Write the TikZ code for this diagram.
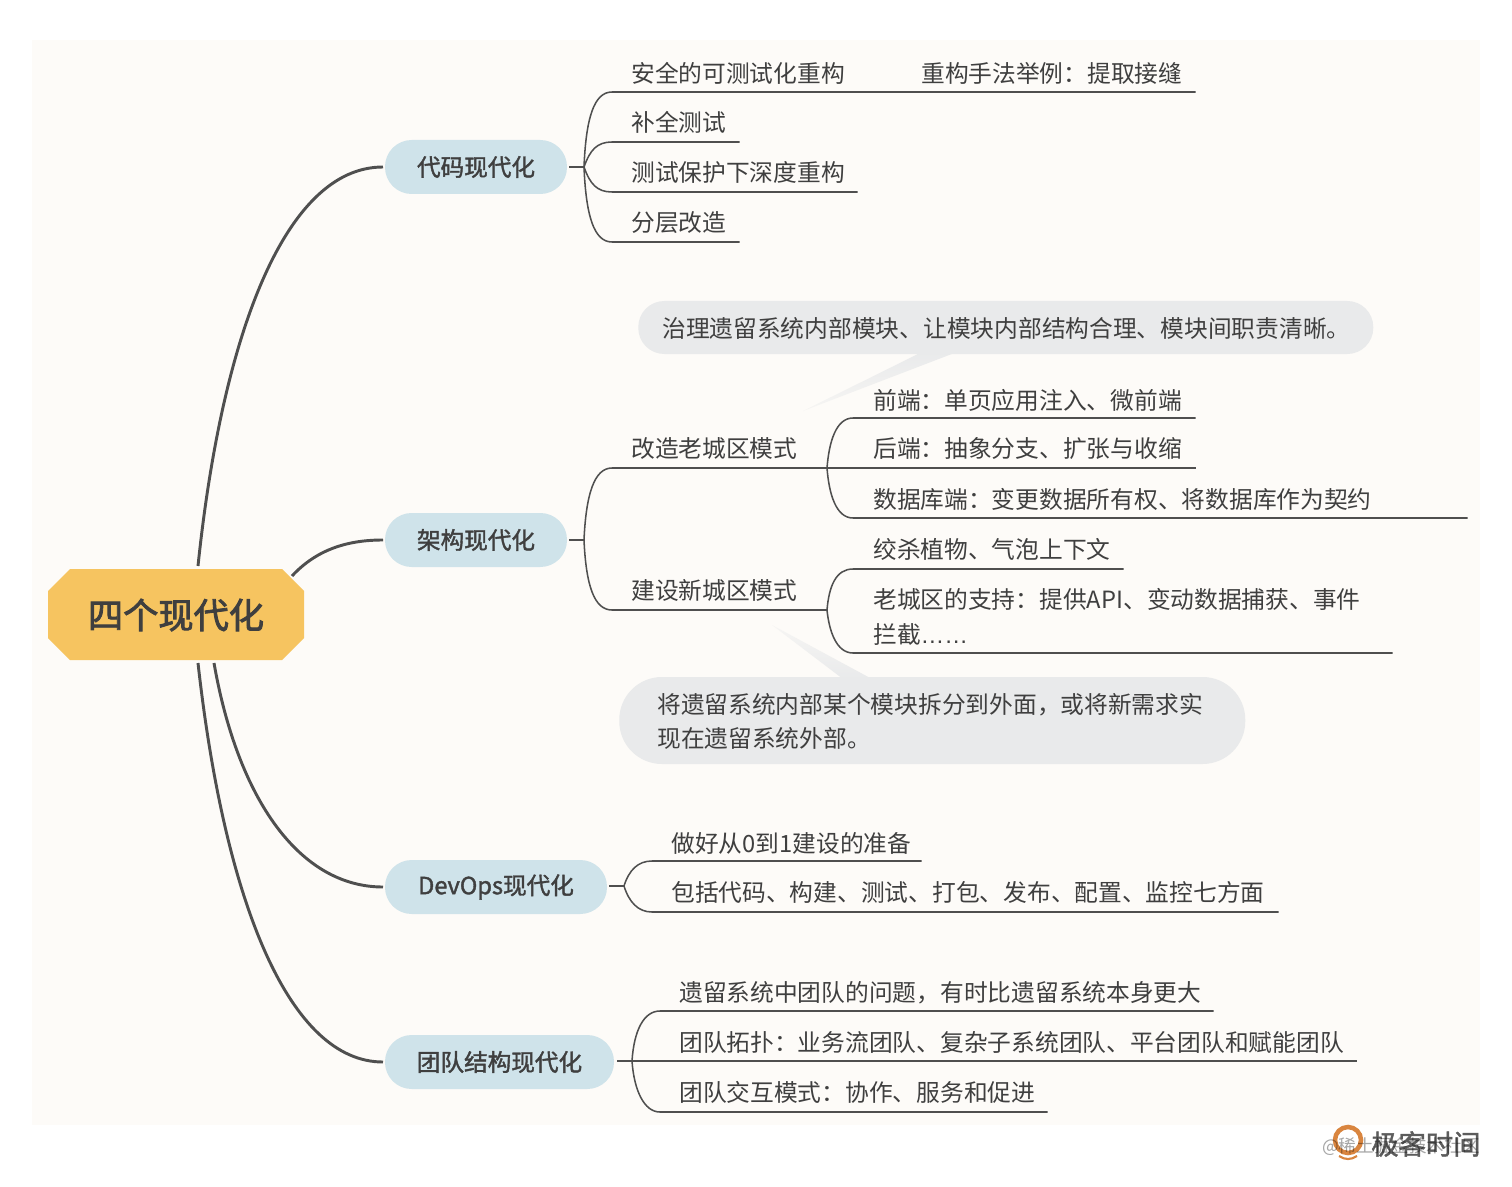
\documentclass[tikz,border=0pt]{standalone}
\usepackage{fontspec}
\setmainfont{Noto Sans CJK SC}
\newfontfamily\latinf{Liberation Sans}
\newfontfamily\medf[FakeBold=1.6]{Noto Sans CJK SC}
\newfontfamily\rootf[FakeBold=2.4]{Noto Sans CJK SC}
\usetikzlibrary{calc}
\definecolor{pagebg}{HTML}{FDFBF8}
\definecolor{rootfill}{HTML}{F6C460}
\definecolor{branchfill}{HTML}{CFE3EA}
\definecolor{notefill}{HTML}{E9EAEB}
\definecolor{ink}{HTML}{3F3F3F}
\definecolor{linecol}{HTML}{4F4F4F}
\definecolor{logocol}{HTML}{D9853F}
\tikzset{
 rootbox/.style={inner sep=0pt,text=ink,font=\rootf\fontsize{26.4}{30}\selectfont},
 branchbox/.style={fill=branchfill,rounded corners=20pt,minimum height=40.5pt,inner sep=0pt,text=ink,font=\medf\fontsize{17.7}{22}\selectfont},
 leafbox/.style={anchor=south west,inner sep=0pt,align=left,text=ink,text depth=7.9pt,font=\fontsize{17.8}{26}\selectfont},
 notebox/.style={fill=notefill,anchor=west,inner sep=0pt,align=left,text=ink,text height=17pt,font=\fontsize{17.8}{25.5}\selectfont},
 trunk/.style={draw=linecol,line width=2.2pt},
 twig/.style={draw=linecol,line width=1.15pt},
}
\newcommand{\leaf}[6][]{%
 \pgfmathsetmacro{\lw}{(#4-#3)*0.75}%
 \node[leafbox,text width=\lw pt,#1] (#2) at (#3,#5) {#6};}
\newcommand{\ind}[1]{\hspace*{#1pt}}
\begin{document}
\begin{tikzpicture}[x=0.75pt,y=-0.75pt]
\useasboundingbox (0,0) rectangle (1512,1187);
\fill[white] (0,0) rectangle (1512,1187);
\fill[pagebg] (32,40) rectangle (1480,1125);

% note tails
\shade[top color=notefill,bottom color=notefill!35!pagebg] (922,352) -- (957,352) -- (803,411) -- cycle;
\shade[top color=notefill!35!pagebg,bottom color=notefill] (772,625) -- (872,679) -- (843,679) -- cycle;

% notes
\node[notebox,rounded corners=19.5pt,text width=551.25pt,minimum height=39.75pt] (n1) at (638,327.5) {\ind{18}治理遗留系统内部模块、让模块内部结构合理、模块间职责清晰。};
\node[notebox,rounded corners=32pt,text width=469.5pt,minimum height=65.25pt] (n2) at (619,720.5) {\ind{28.5}将遗留系统内部某个模块拆分到外面，或将新需求实\\\ind{28.5}现在遗留系统外部。};

% root
\fill[rootfill] (70,569) -- (282,569) -- (304,591) -- (304,638) -- (282,660) -- (70,660) -- (48,638) -- (48,591) -- cycle;
\node[rootbox] (root) at (176,615) {四个现代化};

% branches
\node[branchbox,minimum width=136.5pt] (a) at (476,167) {代码现代化};
\node[branchbox,minimum width=136.5pt] (b) at (476,540) {架构现代化};
\node[branchbox,minimum width=166.5pt] (c) at (496,887) {DevOps现代化};
\node[branchbox,minimum width=171.75pt] (d) at (499.5,1062) {团队结构现代化};

\coordinate (ra) at (198,566);
\coordinate (rb) at (292,576);
\coordinate (rc) at (214,663);
\coordinate (rd) at (198,663);
\coordinate (ae) at (383,167);
\coordinate (be) at (383,540);
\coordinate (ce) at (383,887);
\coordinate (de) at (383,1062);
\draw[trunk] (ra) .. controls (222,335) and (285,167) .. (ae);
\draw[trunk] (rb) .. controls (318,548) and (350,540) .. (be);
\draw[trunk] (rc) .. controls (238,800) and (300,887) .. (ce);
\draw[trunk] (rd) .. controls (225,905) and (290,1062) .. (de);

% leaves: code
\leaf[text depth=7.15pt]{a1}{612}{901}{92}{\ind{14.25}安全的可测试化重构}
\leaf[text depth=7.15pt]{a11}{901}{1195}{92}{\ind{15}重构手法举例：提取接缝}
\leaf{a2}{612}{739}{142}{\ind{14.25}补全测试}
\leaf{a3}{612}{857}{192}{\ind{14.25}测试保护下深度重构}
\leaf{a4}{612}{739}{242}{\ind{14.25}分层改造}
% leaves: architecture
\leaf{b1}{612}{827}{468}{\ind{14.25}改造老城区模式}
\leaf{b2}{612}{827}{610}{\ind{14.25}建设新城区模式}
\leaf[text depth=6.4pt]{b11}{853}{1195}{418}{\ind{15}前端：单页应用注入、微前端}
\leaf{b12}{853}{1195}{468}{\ind{15}后端：抽象分支、扩张与收缩}
\leaf[text depth=7.15pt]{b13}{853}{1467}{518}{\ind{15}数据库端：变更数据所有权、将数据库作为契约}
\leaf{b21}{853}{1123}{569}{\ind{15}绞杀植物、气泡上下文}
\leaf[text depth=33.1pt]{b22}{853}{1392}{653}{\ind{15}老城区的支持：提供API、变动数据捕获、事件\\\ind{15}拦截{\latinf ……}}
% leaves: devops
\leaf[text depth=6.4pt]{c1}{652}{921}{861}{\ind{14.25}做好从0到1建设的准备}
\leaf{c2}{652}{1278}{912}{\ind{14.25}包括代码、构建、测试、打包、发布、配置、监控七方面}
% leaves: team
\leaf[text depth=7.15pt]{d1}{660}{1213}{1011}{\ind{14.25}遗留系统中团队的问题，有时比遗留系统本身更大}
\leaf[text depth=7.15pt]{d2}{660}{1356}{1061}{\ind{14.25}团队拓扑：业务流团队、复杂子系统团队、平台团队和赋能团队}
\leaf{d3}{660}{1047}{1112}{\ind{14.25}团队交互模式：协作、服务和促进}

% hubs
\coordinate (ah) at (584,167);
\coordinate (bh) at (584,540);
\coordinate (ch) at (624,886);
\coordinate (dh) at (632,1061);
\coordinate (b1h) at (827,468);
\coordinate (b2h) at (827,610);
\coordinate (as) at (569,167);
\coordinate (bs) at (569,540);
\coordinate (cs) at (609,886);
\coordinate (ds) at (617,1061);

\draw[twig] (as) -- (ah);
\draw[twig] (bs) -- (bh);
\draw[twig] (cs) -- (ch);
\draw[twig] (ds) -- (dh);

\draw[twig] (ah) .. controls (586,118) and (594,92) .. (a1.south west) -- (a1.south east) -- (a11.south east);
\draw[twig] (ah) .. controls (590,150) and (597,142) .. (a2.south west) -- (a2.south east);
\draw[twig] (ah) .. controls (590,184) and (597,192) .. (a3.south west) -- (a3.south east);
\draw[twig] (ah) .. controls (586,216) and (594,242) .. (a4.south west) -- (a4.south east);

\draw[twig] (bh) .. controls (586,495) and (594,468) .. (b1.south west) -- (b1.south east);
\draw[twig] (bh) .. controls (586,585) and (594,610) .. (b2.south west) -- (b2.south east);

\draw[twig] (b1h) .. controls (829,442) and (836,418) .. (b11.south west) -- (b11.south east);
\draw[twig] (b1h) -- (b12.south west) -- (b12.south east);
\draw[twig] (b1h) .. controls (829,494) and (836,518) .. (b13.south west) -- (b13.south east);
\draw[twig] (b2h) .. controls (829,586) and (836,569) .. (b21.south west) -- (b21.south east);
\draw[twig] (b2h) .. controls (829,630) and (836,653) .. (b22.south west) -- (b22.south east);

\draw[twig] (ch) .. controls (629,870) and (638,861) .. (c1.south west) -- (c1.south east);
\draw[twig] (ch) .. controls (629,902) and (638,912) .. (c2.south west) -- (c2.south east);

\draw[twig] (dh) .. controls (634,1030) and (644,1011) .. (d1.south west) -- (d1.south east);
\draw[twig] (dh) -- (d2.south west) -- (d2.south east);
\draw[twig] (dh) .. controls (634,1090) and (644,1112) .. (d3.south west) -- (d3.south east);

% watermark
\draw[logocol,line width=3.4pt] (1348,1140) circle[radius=13];
\draw[logocol,line width=1.6pt] (1339,1156) .. controls (1345,1160) and (1351,1160) .. (1357,1156);
\node[anchor=west,inner sep=0pt,text=ink!85,font=\medf\fontsize{20.5}{24}\selectfont] (gk) at (1371,1144) {极客时间};
\node[anchor=west,inner sep=0pt,text=black,opacity=0.35,font=\fontsize{13.2}{16}\selectfont] (wm) at (1322,1147) {@稀土掘金技术社区};
\end{tikzpicture}
\end{document}
